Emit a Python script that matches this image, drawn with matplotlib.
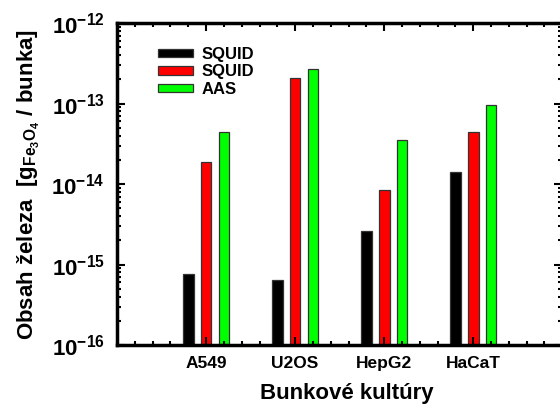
import numpy as np
import matplotlib
matplotlib.use("Agg")
import matplotlib.pyplot as plt
from matplotlib.ticker import LogLocator, FixedLocator, MultipleLocator, NullFormatter

plt.rcParams["font.family"] = ["Liberation Sans", "DejaVu Sans"]
plt.rcParams["font.weight"] = "bold"
plt.rcParams["mathtext.fontset"] = "custom"
plt.rcParams["mathtext.rm"] = "Liberation Sans:bold"
plt.rcParams["mathtext.it"] = "Liberation Sans:bold:italic"
plt.rcParams["mathtext.bf"] = "Liberation Sans:bold"
plt.rcParams["mathtext.default"] = "rm"

# obsah železa na bunku (g Fe3O4)
kultury = ["A549", "U2OS", "HepG2", "HaCaT"]
squid_1 = [7.6e-16, 6.4e-16, 2.6e-15, 1.41e-14]
squid_2 = [1.87e-14, 2.07e-13, 8.4e-15, 4.4e-14]
aas = [4.4e-14, 2.69e-13, 3.5e-14, 9.6e-14]
serie_nazvy = ["SQUID", "SQUID", "AAS"]
dekady = [1e-16, 1e-15, 1e-14, 1e-13, 1e-12]

fig = plt.figure(figsize=(5.6, 4.05), dpi=100)
ax = fig.add_axes([0.209, 0.148, 0.795, 0.795])

x = np.arange(1, len(kultury) + 1)
w = 0.12
barvy = ["#000000", "#ff0000", "#00ff00"]
for off, vals, c, lab in zip([-0.2, 0.0, 0.2], [squid_1, squid_2, aas], barvy, serie_nazvy):
    ax.bar(x + off, vals, width=w, bottom=1e-20, color=c, edgecolor="#333333",
           linewidth=0.9, label=lab)

ax.set_yscale("log")
ax.set_ylim(dekady[0], dekady[-1])
ax.set_xlim(0, 5)

ax.xaxis.set_major_locator(FixedLocator(x))
ax.set_xticklabels(kultury, fontsize=12.5, fontweight="bold")
ax.xaxis.set_minor_locator(MultipleLocator(0.2))
ax.yaxis.set_major_locator(FixedLocator(dekady))
ax.yaxis.set_minor_locator(LogLocator(base=10, subs=np.arange(2, 10), numticks=10))
ax.yaxis.set_minor_formatter(NullFormatter())

ax.tick_params(which="both", direction="in", top=True, right=True, width=1.5)
ax.tick_params(which="major", length=6)
ax.tick_params(which="minor", length=3)
ax.tick_params(axis="y", labelsize=16, pad=9)
ax.tick_params(axis="x", pad=8)
for s in ax.spines.values():
    s.set_linewidth(2.5)

ax.set_xlabel("Bunkové kultúry", fontsize=16, fontweight="bold")
ax.xaxis.set_label_coords(0.515, -0.118)
ax.set_ylabel(r"Obsah železa  [g$_{Fe_3O_4}$ / bunka]", fontsize=16,
              fontweight="bold", labelpad=7)

leg = ax.legend(loc="upper left", bbox_to_anchor=(0.059, 0.972), frameon=False,
                prop={"weight": "bold", "size": 12}, handlelength=2.1,
                handleheight=0.42, labelspacing=0.14, handletextpad=0.5)

fig.savefig("out.png", dpi=100)
